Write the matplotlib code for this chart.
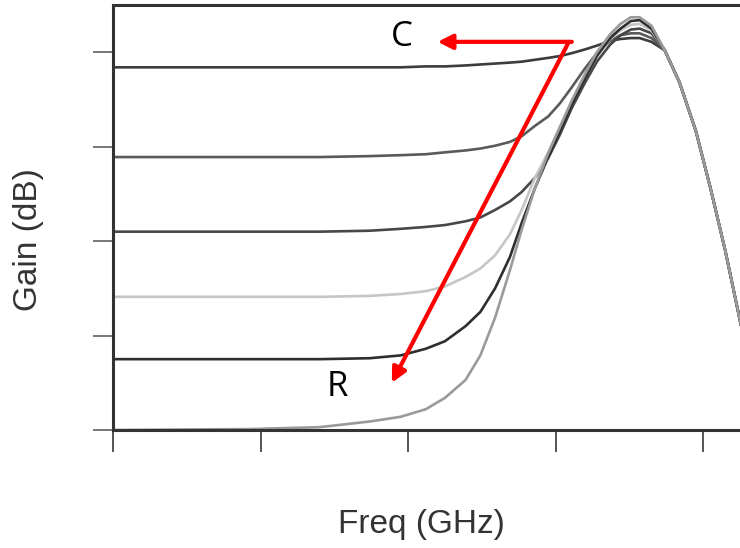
import numpy as np
import matplotlib
matplotlib.use("Agg")
import matplotlib.pyplot as plt

# frequency points (one tick = 1 unit)
freq = [0.00, 0.93, 1.40, 1.74, 1.95, 2.12, 2.25, 2.39, 2.49, 2.59,
        2.69, 2.77, 2.86, 2.95, 3.03, 3.11, 3.20, 3.28, 3.37, 3.44,
        3.51, 3.57, 3.65, 3.74, 3.84, 3.95, 4.05, 4.15, 4.25, 4.35]

# falling edge shared by all curves
tail = [4.02, 3.68, 3.17, 2.56, 1.90, 1.16, 0.37]

# gain curves (one tick = 1 unit), top flat level to bottom
gain_1 = [3.84, 3.84, 3.84, 3.84, 3.84, 3.85, 3.85, 3.86, 3.87, 3.88,
          3.89, 3.90, 3.92, 3.94, 3.96, 3.99, 4.03, 4.07, 4.12, 4.14,
          4.15, 4.15, 4.11] + tail
gain_2 = [2.89, 2.89, 2.89, 2.90, 2.91, 2.92, 2.94, 2.96, 2.98, 3.01,
          3.05, 3.11, 3.22, 3.32, 3.46, 3.63, 3.83, 3.99, 4.12, 4.18,
          4.20, 4.20, 4.15] + tail
gain_3 = [2.10, 2.10, 2.10, 2.11, 2.13, 2.15, 2.17, 2.21, 2.25, 2.33,
          2.42, 2.52, 2.67, 2.88, 3.13, 3.41, 3.68, 3.90, 4.08, 4.18,
          4.24, 4.25, 4.20] + tail
gain_4 = [1.41, 1.41, 1.41, 1.42, 1.44, 1.47, 1.52, 1.62, 1.71, 1.85,
          2.07, 2.33, 2.67, 2.94, 3.21, 3.47, 3.74, 3.96, 4.14, 4.23,
          4.29, 4.30, 4.23] + tail
gain_5 = [0.75, 0.75, 0.75, 0.76, 0.79, 0.86, 0.94, 1.10, 1.25, 1.50,
          1.83, 2.19, 2.56, 2.89, 3.17, 3.45, 3.73, 3.96, 4.15, 4.25,
          4.33, 4.34, 4.25] + tail
gain_6 = [0.00, 0.01, 0.03, 0.09, 0.14, 0.22, 0.34, 0.53, 0.79, 1.19,
          1.69, 2.12, 2.56, 2.93, 3.21, 3.49, 3.77, 4.00, 4.19, 4.30,
          4.37, 4.37, 4.28] + tail

curves = [gain_1, gain_2, gain_3, gain_4, gain_5, gain_6]
colors = ['#3c3c3c', '#5a5a5a', '#474747', '#c6c6c6', '#2e2e2e', '#9a9a9a']

fig = plt.figure(figsize=(7.4, 5.48), dpi=100)
ax = fig.add_axes([113/740, 118/548, 627/740, 425/548])

for g, c in zip(curves, colors):
    ax.plot(freq, g, color=c, lw=1.9, solid_joinstyle='round', solid_capstyle='round')

ax.set_xlim(0, 4.25)
ax.set_ylim(0, 4.5)
ax.set_xticks([0, 1, 2, 3, 4])
ax.set_yticks([0, 1, 2, 3, 4])
ax.set_xticklabels([])
ax.set_yticklabels([])
ax.tick_params(axis='x', length=16, width=1.4, color='#555555', direction='out')
ax.tick_params(axis='y', length=14.5, width=1.4, color='#777777', direction='out')
for s in ['left', 'bottom', 'top']:
    ax.spines[s].set_linewidth(2.2)
    ax.spines[s].set_color('#333333')
ax.spines['right'].set_visible(False)

# red arrows
ax.annotate('', xy=(2.20, 4.11), xytext=(3.11, 4.11),
            arrowprops=dict(arrowstyle='-|>', color='red', lw=3, mutation_scale=22,
                            shrinkA=0, shrinkB=0))
ax.annotate('', xy=(1.89, 0.50), xytext=(3.09, 4.11),
            arrowprops=dict(arrowstyle='-|>', color='red', lw=3, mutation_scale=22,
                            shrinkA=0, shrinkB=0))

ax.text(1.96, 4.16, 'C', fontsize=25, family='Open Sans', ha='center', va='center')
ax.text(1.52, 0.45, 'R', fontsize=25, family='Open Sans', ha='center', va='center')

fig.text(421/740, 1 - 525/548, 'Freq (GHz)', fontsize=24, family='Liberation Sans',
         color='#333333', ha='center', va='center')
fig.text(28/740, 1 - 240/548, 'Gain (dB)', fontsize=24, family='Liberation Sans',
         color='#333333', ha='center', va='center', rotation=90)

fig.savefig('out.png', dpi=100)
